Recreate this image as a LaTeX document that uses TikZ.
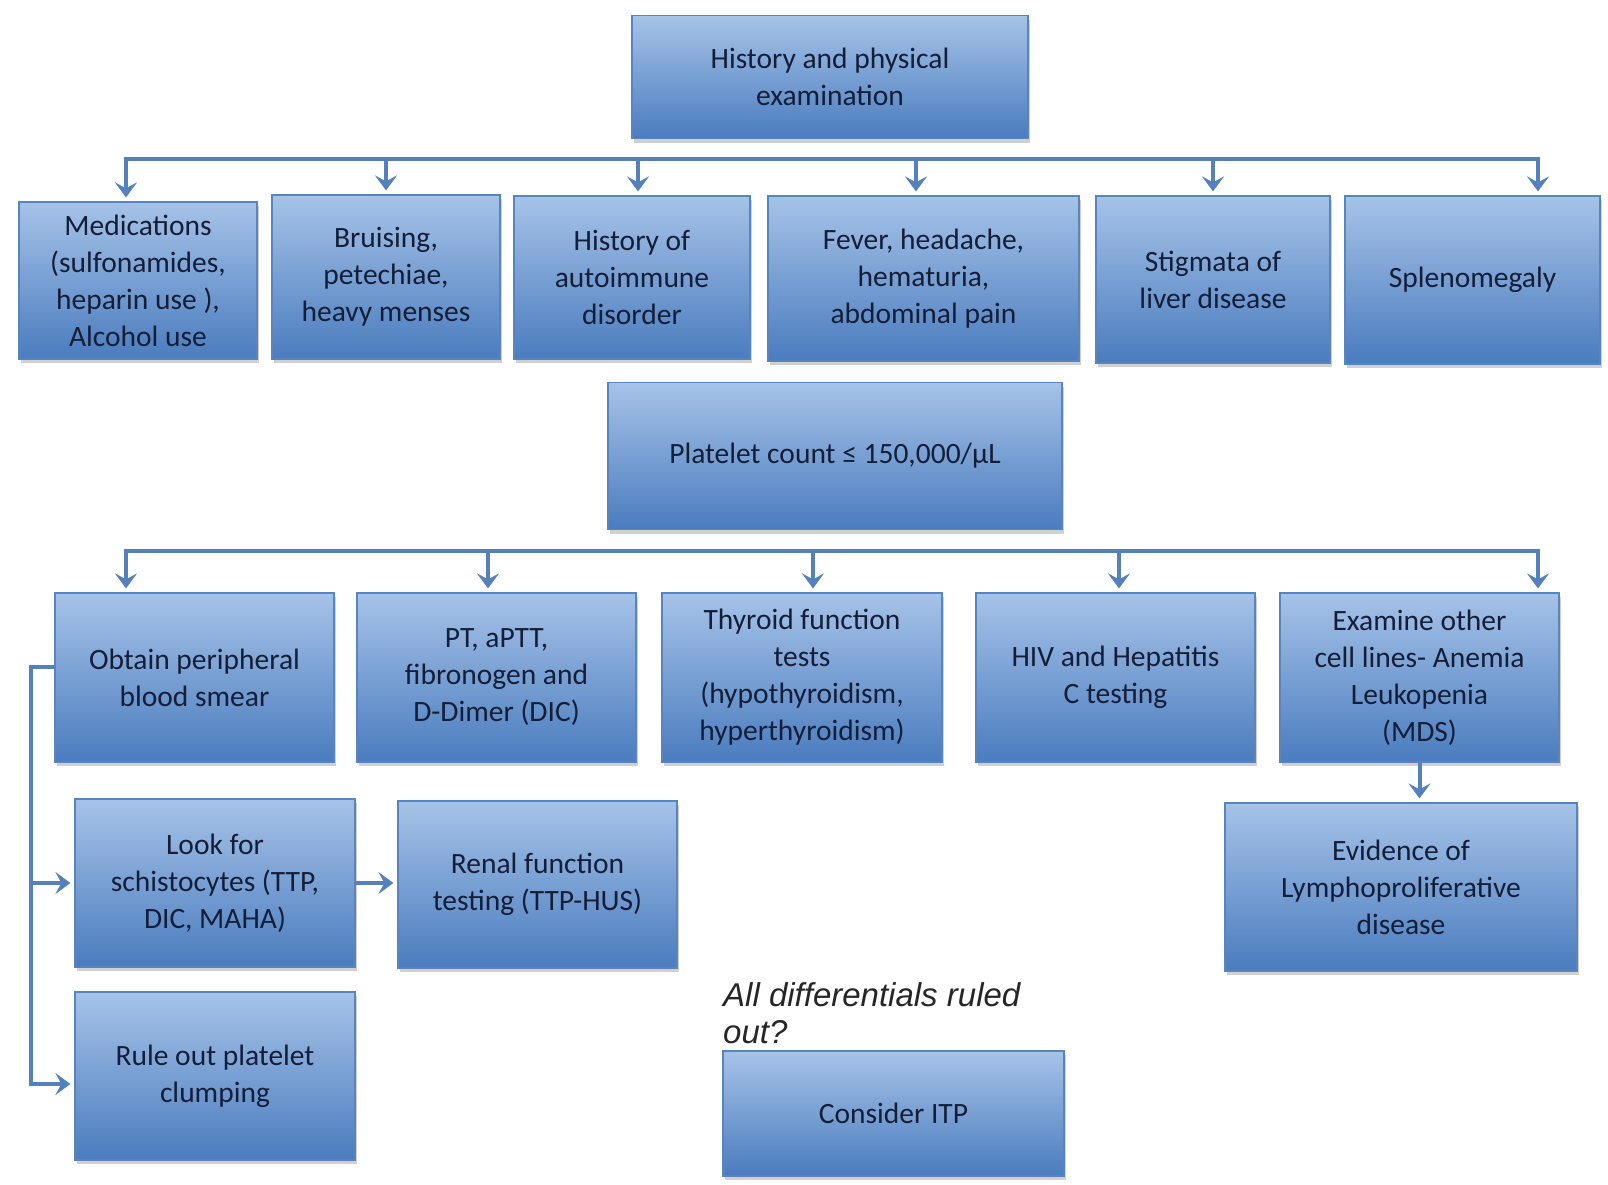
\documentclass[tikz,border=0pt]{standalone}
\usepackage{fontspec}
\setmainfont{Carlito}
\newfontfamily\arialit{Liberation Sans}
\usetikzlibrary{arrows.meta,shadows,calc}
\definecolor{boxtop}{RGB}{166,195,232}
\definecolor{boxbot}{RGB}{74,124,190}
\definecolor{boxedge}{RGB}{88,132,192}
\definecolor{conn}{RGB}{84,128,188}
\definecolor{txt}{RGB}{20,30,56}
\tikzset{
  box/.style={rectangle, draw=boxedge, line width=1.2pt, top color=boxtop, bottom color=boxbot,
    text=txt, align=center, inner sep=4pt,
    font=\fontsize{29.5}{37}\selectfont,
    drop shadow={shadow xshift=2pt, shadow yshift=-4pt, opacity=0.3, fill=black!60}},
  connline/.style={draw=conn, line width=4pt},
  arr/.style={connline, -{Stealth[length=15pt,width=22pt,inset=6pt]}, shorten >=4pt},
}
\begin{document}
\begin{tikzpicture}[x=1pt,y=-1pt]
\useasboundingbox (0,0) rectangle (1608,1184);
\fill[white] (0,0) rectangle (1608,1184);

% top
\node[box, minimum width=396pt, minimum height=123pt] (top) at (830,77) {History and physical\\examination};

% row 1
\node[box, minimum width=238pt, minimum height=157pt] (med) at (138,280.5) {Medications\\(sulfonamides,\\heparin use ),\\Alcohol use};
\node[box, minimum width=228pt, minimum height=164pt] (bru) at (386,277) {Bruising,\\petechiae,\\heavy menses};
\node[box, minimum width=236pt, minimum height=163pt] (auto) at (632,277.5) {History of\\autoimmune\\disorder};
\node[box, minimum width=311pt, minimum height=165pt] (fever) at (923.5,278.5) {Fever, headache,\\hematuria,\\abdominal pain};
\node[box, minimum width=234pt, minimum height=167pt] (stig) at (1213,279.5) {Stigmata of\\liver disease};
\node[box, minimum width=255pt, minimum height=168pt] (spl) at (1472.5,280) {Splenomegaly};

% platelet
\node[box, minimum width=454pt, minimum height=147pt] (plt) at (835,456) {Platelet count ≤ 150,000/µL};

% row 2
\node[box, minimum width=279pt, minimum height=169pt] (obt) at (194.5,677.5) {Obtain peripheral\\blood smear};
\node[box, minimum width=279pt, minimum height=169pt] (pt) at (496.5,677.5) {PT, aPTT,\\fibronogen and\\D-Dimer (DIC)};
\node[box, minimum width=280pt, minimum height=169pt] (thy) at (802,677.5) {Thyroid function\\tests\\(hypothyroidism,\\hyperthyroidism)};
\node[box, minimum width=279pt, minimum height=169pt] (hiv) at (1115.5,677.5) {HIV and Hepatitis\\C testing};
\node[box, minimum width=279pt, minimum height=169pt] (exam) at (1419.5,677.5) {Examine other\\cell lines- Anemia\\Leukopenia\\(MDS)};

% lower
\node[box, minimum width=352pt, minimum height=168pt] (evid) at (1401,887) {Evidence of\\Lymphoproliferative\\disease};
\node[box, minimum width=280pt, minimum height=168pt] (look) at (215,883) {Look for\\schistocytes (TTP,\\DIC, MAHA)};
\node[box, minimum width=279pt, minimum height=167pt] (renal) at (537.5,884.5) {Renal function\\testing (TTP-HUS)};
\node[box, minimum width=280pt, minimum height=168pt] (rule) at (215,1076) {Rule out platelet\\clumping};
\node[box, minimum width=341pt, minimum height=125pt] (itp) at (893.5,1113.5) {Consider ITP};

\node[anchor=north west, align=left, inner sep=0pt, text=black!85,
  font=\arialit\itshape\fontsize{33}{37}\selectfont] (q) at (723,982) {All differentials ruled\\out?};

% bar 1
\coordinate (b1a) at (126,159);
\coordinate (b1b) at (386,159);
\coordinate (b1c) at (638,159);
\coordinate (b1d) at (916,159);
\coordinate (b1e) at (1213,159);
\coordinate (b1f) at (1538,159);
\draw[connline] ([xshift=-2pt]b1a) -- ([xshift=2pt]b1f);
\draw[arr] (b1a) -- (b1a |- med.north);
\draw[arr] (b1b) -- (b1b |- bru.north);
\draw[arr] (b1c) -- (b1c |- auto.north);
\draw[arr] (b1d) -- (b1d |- fever.north);
\draw[arr] (b1e) -- (b1e |- stig.north);
\draw[arr] (b1f) -- (b1f |- spl.north);

% bar 2
\coordinate (b2a) at (126,551);
\coordinate (b2b) at (488,551);
\coordinate (b2c) at (813,551);
\coordinate (b2d) at (1119,551);
\coordinate (b2e) at (1538,551);
\draw[connline] ([xshift=-2pt]b2a) -- ([xshift=2pt]b2e);
\draw[arr] (b2a) -- (b2a |- obt.north);
\draw[arr] (b2b) -- (b2b |- pt.north);
\draw[arr] (b2c) -- (b2c |- thy.north);
\draw[arr] (b2d) -- (b2d |- hiv.north);
\draw[arr] (b2e) -- (b2e |- exam.north);

% exam -> evid
\draw[arr] (exam.south) -- (exam.south |- evid.north);

% left bracket
\coordinate (sp) at (31,667);
\draw[connline] ([yshift=10.5pt]obt.west) -- (sp);
\draw[arr, shorten <=-2pt] (sp) |- ([yshift=-8pt]rule.west);
\draw[arr] (sp |- look.west) -- (look.west);
\draw[arr] (look.east) -- (look.east -| renal.west);
\end{tikzpicture}
\end{document}
